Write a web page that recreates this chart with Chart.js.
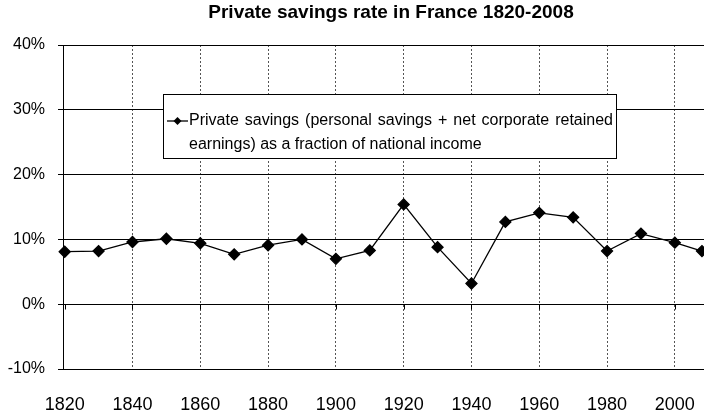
<!DOCTYPE html>
<html>
<head>
<meta charset="utf-8">
<script src="https://cdn.jsdelivr.net/npm/chart.js@4/dist/chart.umd.min.js"></script>
<style>
  html, body { margin: 0; padding: 0; background: #fff; }
  canvas { display: block; }
</style>
</head>
<body>
<canvas id="savingsChart" width="704" height="416"></canvas>
<script>
const years = [1820, 1830, 1840, 1850, 1860, 1870, 1880, 1890, 1900, 1910,
               1920, 1930, 1940, 1950, 1960, 1970, 1980, 1990, 2000, 2008];
const savings = [8.1, 8.2, 9.6, 10.1, 9.4, 7.7, 9.1, 10.0, 7.0, 8.3,
                 15.4, 8.8, 3.2, 12.7, 14.1, 13.4, 8.2, 10.9, 9.5, 8.2];
const yearTicks = [1820, 1840, 1860, 1880, 1900, 1920, 1940, 1960, 1980, 2000];
const pctTicks = [-10, 0, 10, 20, 30, 40];
const chartTitle = 'Private savings rate in France 1820-2008';
const legendLines = [
    'Private savings (personal savings + net corporate retained',
    'earnings) as a fraction of national income'
];

const FONT = '"Liberation Sans", Arial, sans-serif';

// draws a line of text justified to a given width (like the Excel legend)
function justifyText(ctx, text, x, y, width) {
    const words = text.split(' ');
    const used = words.reduce((s, w) => s + ctx.measureText(w).width, 0);
    const gap = (width - used) / (words.length - 1);
    let cx = x;
    words.forEach(w => {
        ctx.fillText(w, cx, y);
        cx += ctx.measureText(w).width + gap;
    });
}

// title, Excel-style legend box and axis tick marks on the 0% line
const extras = {
    id: 'extras',
    afterDatasetsDraw(chart) {
        const ctx = chart.ctx;
        const x = chart.scales.x, y = chart.scales.y;
        const y0 = Math.round(y.getPixelForValue(0)) + 0.5;
        ctx.save();
        ctx.strokeStyle = '#000';
        ctx.lineWidth = 1;
        yearTicks.forEach(t => {
            const px = Math.round(x.getPixelForValue(t)) + 0.5;
            ctx.beginPath();
            ctx.moveTo(px, y0);
            ctx.lineTo(px, y0 + 5);
            ctx.stroke();
        });

        // title
        ctx.fillStyle = '#000';
        ctx.font = 'bold 19px ' + FONT;
        ctx.textAlign = 'center';
        ctx.textBaseline = 'middle';
        ctx.fillText(chartTitle, 391, 13);

        // legend
        const bx = chart.chartArea.left + 100, by = chart.chartArea.top + 49;
        const bw = 453, bh = 64;
        ctx.fillStyle = '#fff';
        ctx.fillRect(bx, by, bw, bh);
        ctx.strokeRect(Math.round(bx) + 0.5, Math.round(by) + 0.5, bw, bh);
        ctx.lineWidth = 1.3;
        ctx.beginPath();
        ctx.moveTo(bx + 4, by + 27);
        ctx.lineTo(bx + 25, by + 27);
        ctx.stroke();
        ctx.fillStyle = '#000';
        ctx.beginPath();
        ctx.moveTo(bx + 14.5, by + 23);
        ctx.lineTo(bx + 18.5, by + 27);
        ctx.lineTo(bx + 14.5, by + 31);
        ctx.lineTo(bx + 10.5, by + 27);
        ctx.closePath();
        ctx.fill();
        ctx.font = '16px ' + FONT;
        ctx.textBaseline = 'middle';
        ctx.textAlign = 'left';
        justifyText(ctx, legendLines[0], bx + 26, by + 27, 424);
        ctx.fillText(legendLines[1], bx + 26, by + 51);
        ctx.restore();
    }
};

new Chart(document.getElementById('savingsChart'), {
    type: 'line',
    data: {
        datasets: [{
            label: legendLines.join(' '),
            data: years.map((yr, i) => ({ x: yr, y: savings[i] })),
            borderColor: '#000',
            backgroundColor: '#000',
            borderWidth: 1.3,
            pointStyle: 'rectRot',
            pointRadius: 5.5,
            pointHoverRadius: 5.5,
            tension: 0,
            clip: 8
        }]
    },
    options: {
        responsive: false,
        animation: false,
        devicePixelRatio: 1,
        layout: { autoPadding: false, padding: { top: 45, left: 0, right: 0, bottom: 0 } },
        plugins: {
            legend: { display: false },
            tooltip: { enabled: false },
            title: { display: false }
        },
        scales: {
            x: {
                type: 'linear',
                min: 1819.5,
                max: 2008.6,
                afterBuildTicks: s => { s.ticks = yearTicks.map(v => ({ value: v })); },
                afterFit: s => { s.height = 47; s.paddingLeft = 0; s.paddingRight = 0; },
                ticks: {
                    color: '#000',
                    font: { family: FONT, size: 18 },
                    padding: 25,
                    maxRotation: 0,
                    callback: v => String(v)
                },
                grid: {
                    drawTicks: false,
                    color: ctx => ctx.tick && ctx.tick.value === 1820 ? 'rgba(0,0,0,0)' : '#555',
                    lineWidth: 1
                },
                border: { display: true, color: '#000', dash: [2, 2] }
            },
            y: {
                min: -10,
                max: 40,
                afterBuildTicks: s => { s.ticks = pctTicks.map(v => ({ value: v })); },
                afterFit: s => { s.width = 63; s.paddingTop = 0; s.paddingBottom = 0; },
                ticks: {
                    color: '#000',
                    font: { family: FONT, size: 16 },
                    padding: 13,
                    callback: v => v + '%'
                },
                grid: {
                    color: '#000',
                    lineWidth: 1,
                    tickLength: 5,
                    tickColor: '#000'
                },
                border: { display: true, color: '#000', width: 1 }
            }
        }
    },
    plugins: [extras]
});
</script>
</body>
</html>
